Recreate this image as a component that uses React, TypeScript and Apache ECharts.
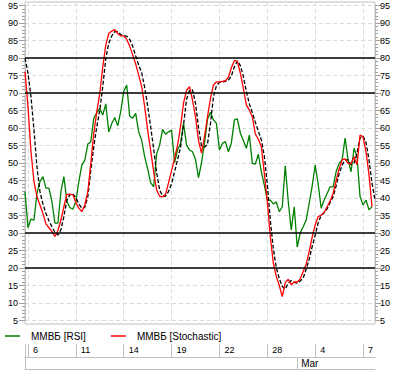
import React, { useEffect, useRef } from 'react';
import * as echarts from 'echarts';

const pointCount = 118;
const dayLabels = ['6', '11', '14', '19', '22', '28', '4', '7'];
const dayIndex = [1, 17, 33, 49, 65, 81, 97, 113];
const monthLabels = ['Mar'];
const monthIndex = [91];
const levels = [20, 30, 70, 80];

const rsi = [
  41.8, 31.5, 34.0, 33.7, 41.3, 44.7, 46.1, 42.8, 42.8, 39.0,
  32.8, 32.8, 41.8, 46.1, 39.0, 37.3, 36.8, 39.0, 44.7, 49.4,
  50.8, 55.4, 56.1, 62.8, 64.4, 65.6, 63.7, 66.9, 58.9, 61.3,
  63.0, 60.6, 64.7, 70.4, 72.3, 63.4, 62.8, 64.2, 58.9, 56.5,
  51.8, 48.3, 44.4, 43.2, 52.6, 55.1, 59.6, 58.2, 58.9, 59.4,
  50.1, 53.7, 55.6, 61.3, 55.1, 53.7, 53.2, 51.0, 45.8, 50.0,
  55.6, 62.5, 64.5, 62.3, 61.3, 53.7, 55.6, 56.1, 53.2, 55.8,
  62.3, 62.6, 58.5, 56.4, 54.2, 58.0, 49.9, 49.7, 52.5, 47.5,
  43.7, 39.4, 39.4, 38.3, 38.9, 36.1, 37.5, 49.2, 39.0, 30.9,
  37.5, 26.0, 30.0, 31.8, 33.7, 38.5, 43.4, 49.4, 44.0, 37.1,
  39.4, 41.3, 43.2, 43.2, 47.5, 49.9, 50.9, 57.1, 50.9, 47.5,
  54.2, 51.8, 40.4, 38.0, 39.4, 36.6, 37.5,
];

const stochastic = [
  76.1, 66.1, 53.2, 44.7, 40.4, 38.0, 35.6, 32.6, 31.5, 30.4,
  29.0, 30.7, 33.7, 37.5, 41.0, 41.1, 40.9, 38.7, 37.1, 36.1,
  38.0, 41.8, 49.9, 58.5, 64.7, 69.9, 77.5, 83.7, 87.0, 87.7,
  88.1, 87.0, 86.3, 86.3, 85.3, 83.4, 80.9, 78.3, 75.1, 71.8,
  66.1, 59.4, 53.7, 47.5, 42.3, 40.5, 40.3, 41.1, 44.4, 47.8,
  51.3, 55.1, 60.4, 67.2, 70.7, 71.8, 68.0, 63.2, 56.4, 52.8,
  57.5, 63.2, 68.5, 72.3, 73.2, 73.2, 73.3, 73.5, 74.5, 77.2,
  79.3, 79.0, 75.6, 71.3, 66.6, 65.1, 63.2, 58.3, 56.8, 54.7,
  47.0, 39.0, 29.0, 21.5, 17.6, 15.0, 11.8, 15.8, 16.8, 15.2,
  16.0, 16.0, 16.9, 19.0, 21.1, 24.7, 28.8, 32.3, 34.7, 35.1,
  35.9, 37.5, 39.1, 41.3, 44.9, 48.3, 50.9, 51.2, 49.9, 49.8,
  51.8, 49.5, 58.0, 57.5, 53.2, 46.6, 37.5,
];

const signal = [
  80.0, 75.6, 69.0, 59.4, 48.9, 41.8, 38.3, 35.6, 33.5, 31.8,
  30.2, 29.4, 30.9, 34.7, 39.4, 40.9, 41.2, 40.1, 38.3, 37.1,
  37.3, 40.4, 48.0, 54.7, 60.4, 65.1, 71.8, 79.9, 84.2, 86.3,
  87.5, 87.6, 86.7, 86.4, 86.2, 85.3, 83.4, 80.6, 78.0, 75.8,
  71.6, 66.3, 60.4, 54.1, 47.2, 42.3, 40.6, 40.5, 41.9, 44.1,
  47.5, 50.9, 54.5, 60.9, 68.2, 70.7, 70.9, 67.1, 60.2, 54.9,
  54.5, 55.4, 61.3, 69.0, 72.1, 73.0, 73.2, 73.3, 73.7, 74.9,
  77.5, 79.2, 77.8, 74.7, 70.4, 66.9, 64.4, 61.6, 59.1, 56.6,
  52.0, 43.9, 33.7, 25.6, 20.1, 17.0, 14.7, 14.0, 15.7, 16.4,
  15.9, 15.7, 16.3, 17.1, 19.7, 22.5, 26.1, 29.4, 32.9, 35.0,
  35.8, 36.9, 38.7, 40.4, 43.4, 46.9, 49.4, 50.9, 50.9, 49.5,
  50.0, 52.8, 57.2, 57.7, 55.9, 50.9, 44.2, 39.4,
];

const categories = Array.from({ length: pointCount }, (_, i) => String(i));

const FONT = '"Liberation Sans", Arial, sans-serif';
const BORDER = '#c0c0c0';
const TICK = '#a0a0a0';
const GRIDLINE = '#dadada';

const isDay = (i: number) => dayIndex.indexOf(i) >= 0;
const isMonth = (i: number) => monthIndex.indexOf(i) >= 0;

export default function App() {
  const ref = useRef<HTMLDivElement>(null);

  useEffect(() => {
    if (!ref.current) return;
    const chart = echarts.init(ref.current, undefined, { renderer: 'svg' });
    const hiddenY = (gridIndex: number) => ({ gridIndex, type: 'value', show: false, splitLine: { show: false } });
    const option: any = {
      animation: false,
      backgroundColor: '#ffffff',
      textStyle: { fontFamily: FONT },
      legend: {
        data: ['ММВБ [RSI]', 'ММВБ [Stochastic]'],
        left: 0,
        top: 326,
        icon: 'rect',
        itemWidth: 15,
        itemHeight: 1.5,
        itemGap: 25,
        textStyle: { fontSize: 10, fontFamily: FONT, color: '#000', padding: [0, 0, 0, 6] },
      },
      grid: [
        { left: 25, right: 24, top: 5.5, bottom: 55.5 },
        { left: 25, right: 24, top: 2, bottom: 52, show: true, borderColor: BORDER, borderWidth: 1, backgroundColor: 'transparent' },
        { left: 25, right: 24, top: 344, height: 13 },
        { left: 25, right: 24, top: 357, height: 12 },
      ],
      xAxis: [
        { gridIndex: 0, type: 'category', data: categories, boundaryGap: false, show: false },
        {
          gridIndex: 1, type: 'category', data: categories, boundaryGap: false,
          axisLine: { show: false }, axisTick: { show: false }, axisLabel: { show: false },
          splitLine: { show: true, interval: (i: number) => isDay(i), lineStyle: { color: GRIDLINE, type: [4, 3], width: 1 } },
        },
        {
          gridIndex: 2, type: 'category', position: 'top', data: categories, boundaryGap: false,
          axisLine: { show: true, lineStyle: { color: BORDER } }, axisTick: { show: false }, axisLabel: { show: false },
        },
        {
          gridIndex: 2, type: 'category', position: 'bottom', data: categories, boundaryGap: false,
          axisLine: { show: true, lineStyle: { color: BORDER } },
          axisTick: { show: true, inside: true, length: 13, interval: (i: number) => i === 0 || isDay(i), lineStyle: { color: BORDER } },
          axisLabel: {
            show: true, interval: (i: number) => isDay(i),
            formatter: (v: string) => dayLabels[dayIndex.indexOf(Number(v))] ?? '',
            align: 'left', padding: [0, 0, 0, 5], margin: -11.5,
            fontSize: 9, fontFamily: FONT, color: '#000',
          },
        },
        {
          gridIndex: 3, type: 'category', position: 'bottom', data: categories, boundaryGap: false,
          axisLine: { show: true, lineStyle: { color: BORDER } },
          axisTick: { show: true, inside: true, length: 12, interval: (i: number) => i === 0 || isMonth(i), lineStyle: { color: BORDER } },
          axisLabel: {
            show: true, interval: (i: number) => isMonth(i),
            formatter: (v: string) => monthLabels[monthIndex.indexOf(Number(v))] ?? '',
            align: 'left', padding: [0, 0, 0, 4], margin: -10.5,
            fontSize: 10, fontFamily: FONT, color: '#000',
          },
        },
      ],
      yAxis: [
        {
          gridIndex: 0, type: 'value', position: 'left', min: 5, max: 95, interval: 5,
          axisLine: { show: true, lineStyle: { color: BORDER } },
          axisTick: { show: true, length: 6, lineStyle: { color: TICK } },
          minorTick: { show: true, splitNumber: 5, length: 3, lineStyle: { color: TICK } },
          axisLabel: { color: '#000', fontSize: 9, fontFamily: FONT, margin: 7 },
          splitLine: { show: true, lineStyle: { color: GRIDLINE, type: [4, 3] } },
        },
        {
          gridIndex: 0, type: 'value', position: 'right', min: 5, max: 95, interval: 5,
          axisLine: { show: true, lineStyle: { color: BORDER } },
          axisTick: { show: true, length: 6, lineStyle: { color: TICK } },
          minorTick: { show: true, splitNumber: 5, length: 3, lineStyle: { color: TICK } },
          axisLabel: { color: '#000', fontSize: 9, fontFamily: FONT, margin: 5 },
          splitLine: { show: false },
        },
        hiddenY(1),
        hiddenY(2),
        hiddenY(3),
      ],
      series: [
        {
          name: 'ММВБ [RSI]', type: 'line', xAxisIndex: 0, yAxisIndex: 0, data: rsi,
          symbol: 'none', lineStyle: { color: '#008000', width: 1.3 }, itemStyle: { color: '#008000' },
          markLine: {
            silent: true, symbol: ['none', 'none'], label: { show: false },
            lineStyle: { color: '#000', width: 1.5, type: 'solid' },
            emphasis: { disabled: true },
            data: levels.map((v) => ({ yAxis: v })),
          },
        },
        {
          name: 'Signal', type: 'line', xAxisIndex: 0, yAxisIndex: 0, data: signal,
          symbol: 'none', lineStyle: { color: '#000', width: 1.3, type: [4, 2] }, itemStyle: { color: '#000' },
        },
        {
          name: 'ММВБ [Stochastic]', type: 'line', xAxisIndex: 0, yAxisIndex: 0, data: stochastic,
          symbol: 'none', lineStyle: { color: '#ff0000', width: 1.3 }, itemStyle: { color: '#ff0000' },
        },
      ],
    };
    chart.setOption(option);
    return () => chart.dispose();
  }, []);

  return (
    <div
      ref={ref}
      style={{ position: 'fixed', left: 0, top: 0, width: 399, height: 376, background: '#fff' }}
    />
  );
}
